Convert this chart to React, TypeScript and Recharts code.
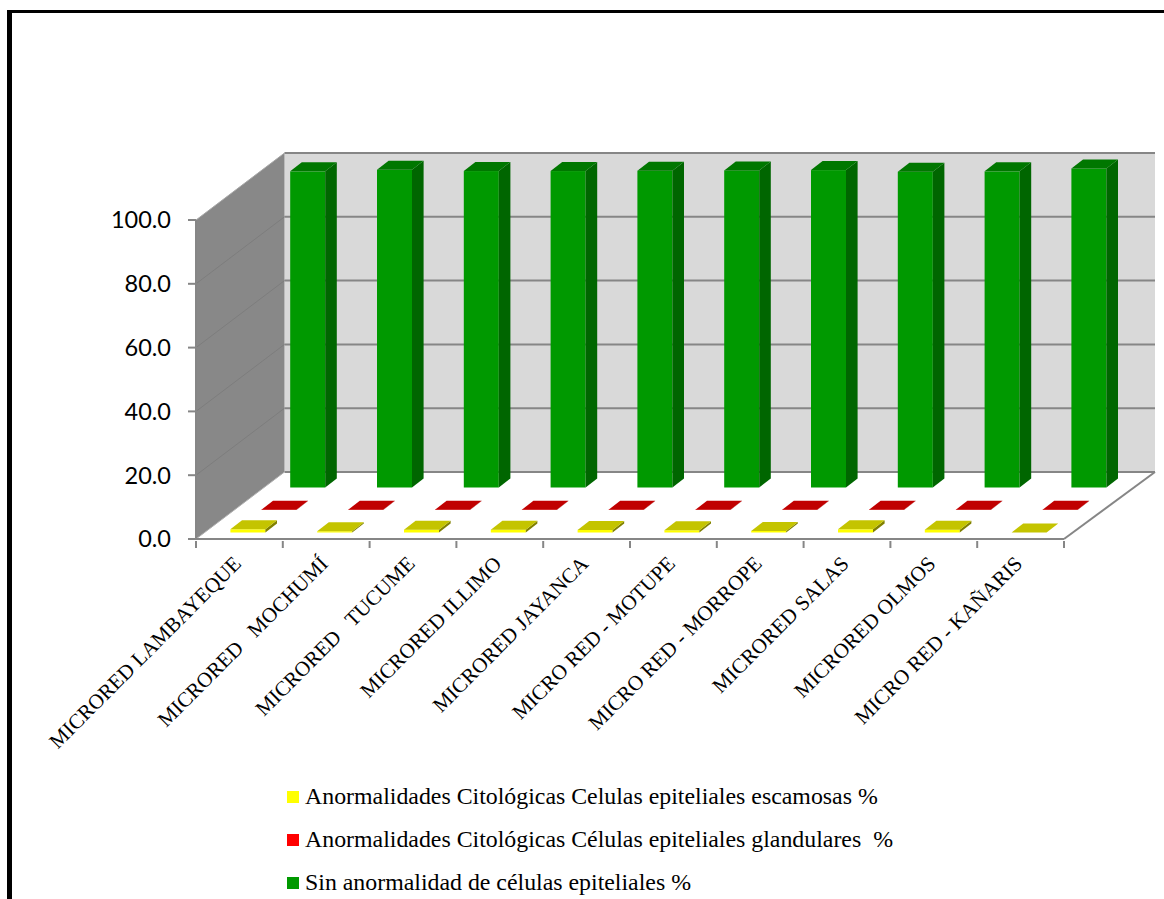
import { BarChart, Bar, XAxis, YAxis, Legend, ReferenceArea } from "recharts";

const MICROREDES = [
  "MICRORED LAMBAYEQUE",
  "MICRORED   MOCHUMÍ",
  "MICRORED   TUCUME",
  "MICRORED ILLIMO",
  "MICRORED JAYANCA",
  "MICRO RED - MOTUPE",
  "MICRO RED - MORROPE",
  "MICRORED SALAS",
  "MICRORED OLMOS",
  "MICRO RED - KAÑARIS",
];
const ESCAMOSAS = [1.0, 0.4, 0.9, 0.9, 0.8, 0.7, 0.5, 1.0, 0.9, 0.0];
const GLANDULARES = [0.1, 0.1, 0.1, 0.1, 0.1, 0.1, 0.1, 0.1, 0.1, 0.1];
const SIN_ANORMALIDAD = [99.1, 99.6, 99.2, 99.2, 99.3, 99.4, 99.5, 99.0, 99.1, 100.0];
const Y_TICKS = [0, 20, 40, 60, 80, 100];

const chartData = MICROREDES.map((name, i) => ({
  name,
  escamosas: ESCAMOSAS[i],
  glandulares: GLANDULARES[i],
  sinAnormalidad: SIN_ANORMALIDAD[i],
}));

const CHART_W = 1164;
const CHART_H = 899;
const WALL_DX_LEFT = 88.5;
const WALL_DX_RIGHT = 91;
const WALL_DY = 67;
const CAT_W = 86.8;
const AXIS_GREY = "#868686";

// ── Back wall, side wall and floor, all hung off the plot rectangle ─────────
function Room({ x, y, width, height }: any) {
  const bottom = y + height;
  const right = x + width;
  const bx = x + WALL_DX_LEFT;
  const br = right + WALL_DX_RIGHT;
  const tickY = (t: number) => bottom - (height * t) / 100;
  return (
    <g>
      <polygon
        points={`${bx},${y - WALL_DY} ${br},${y - WALL_DY} ${br},${bottom - WALL_DY} ${bx},${bottom - WALL_DY}`}
        fill="#d9d9d9"
      />
      <polygon
        points={`${x},${y} ${bx},${y - WALL_DY} ${bx},${bottom - WALL_DY} ${x},${bottom}`}
        fill="#888888"
      />
      {Y_TICKS.map((t) => (
        <g key={t}>
          {t > 0 && t < 100 && (
            <line x1={x} y1={tickY(t)} x2={bx} y2={tickY(t) - WALL_DY} stroke="#7d7d7d" strokeWidth={1} />
          )}
          <line x1={bx} y1={tickY(t) - WALL_DY} x2={br} y2={tickY(t) - WALL_DY} stroke={AXIS_GREY} strokeWidth={2} />
        </g>
      ))}
      <line x1={x} y1={y} x2={bx} y2={y - WALL_DY} stroke="#a8a8a8" strokeWidth={1} />
      <line x1={x} y1={bottom} x2={bx} y2={bottom - WALL_DY} stroke="#b0b0b0" strokeWidth={1} />
      <line x1={right} y1={bottom} x2={br} y2={bottom - WALL_DY} stroke={AXIS_GREY} strokeWidth={2} />
    </g>
  );
}

// ── Extruded bar: front face, side face and lid, pushed back along the floor ──
function prism(colors: { front: string; side: string; top: string }, rowDx: number, rowDy: number) {
  return function Prism({ x, y, width, height }: any) {
    const fx = x + rowDx;
    const fy = y - rowDy;
    const dx = 11.6;
    const dy = 9;
    const r = fx + width;
    const b = fy + height;
    return (
      <g>
        <rect x={fx} y={fy} width={width} height={height} fill={colors.front} />
        <polygon points={`${r},${fy} ${r + dx},${fy - dy} ${r + dx},${b - dy} ${r},${b}`} fill={colors.side} />
        <polygon points={`${fx},${fy} ${fx + dx},${fy - dy} ${r + dx},${fy - dy} ${r},${fy}`} fill={colors.top} />
      </g>
    );
  };
}

const YellowPrism = prism({ front: "#ffff00", side: "#808000", top: "#c4c400" }, 8.4, 6.5);
const RedPrism = prism({ front: "#ff0000", side: "#800000", top: "#c00000" }, 39.4, 29);
const GreenPrism = prism({ front: "#009900", side: "#006600", top: "#007700" }, 68.2, 51.5);

// Slanted category label plus the boundary tick marks of the floor edge
function CategoryTick({ x, y, payload, index }: any) {
  const tx = x + 3;
  const ty = y + 24;
  return (
    <g>
      <line x1={x - CAT_W / 2} y1={y} x2={x - CAT_W / 2} y2={y + 7} stroke={AXIS_GREY} strokeWidth={2} />
      {index === MICROREDES.length - 1 && (
        <line x1={x + CAT_W / 2} y1={y} x2={x + CAT_W / 2} y2={y + 7} stroke={AXIS_GREY} strokeWidth={2} />
      )}
      <text
        x={tx}
        y={ty}
        textAnchor="end"
        transform={`rotate(-45 ${tx} ${ty})`}
        fontFamily="'Liberation Serif', serif"
        fontSize={21}
        fill="#000"
        style={{ whiteSpace: "pre" }}
      >
        {payload.value}
      </text>
    </g>
  );
}

function LegendRows({ payload }: any) {
  return (
    <div style={{ fontFamily: "'Liberation Serif', serif", fontSize: 23.85, color: "#000" }}>
      {(payload ?? []).map((item: any) => (
        <div key={item.value} style={{ display: "flex", alignItems: "center", height: 43, whiteSpace: "pre" }}>
          <span style={{ width: 12, height: 12, background: item.color, marginRight: 6 }} />
          {item.value}
        </div>
      ))}
    </div>
  );
}

export default function App() {
  return (
    <div style={{ position: "absolute", left: 0, top: 0, width: CHART_W, height: CHART_H, overflow: "hidden", background: "#fff" }}>
      <div style={{ position: "absolute", left: 7, top: 10, width: CHART_W, height: CHART_H, borderLeft: "5px solid #000", borderTop: "3px solid #000" }} />
      <BarChart
        width={CHART_W}
        height={CHART_H}
        data={chartData}
        barSize={35}
        barGap={-35}
        barCategoryGap={0}
        margin={{ top: 220, right: 100, left: 136, bottom: 300 }}
        style={{ position: "absolute", left: 0, top: 0 }}
      >
        <ReferenceArea y1={0} y2={100} shape={Room} />
        <XAxis
          dataKey="name"
          interval={0}
          height={60}
          stroke={AXIS_GREY}
          strokeWidth={2}
          tickLine={false}
          tickSize={0}
          tick={CategoryTick}
        />
        <YAxis
          domain={[0, 100]}
          ticks={Y_TICKS}
          width={60}
          stroke={AXIS_GREY}
          strokeWidth={2}
          tickSize={8}
          tickMargin={17}
          tickFormatter={(v: number) => v.toFixed(1)}
          tick={{ fontFamily: "Lato, sans-serif", fontSize: 23.5, fill: "#000" }}
        />
        <Legend
          layout="vertical"
          align="center"
          verticalAlign="middle"
          content={LegendRows}
          wrapperStyle={{ position: "absolute", left: 287, top: 775, width: 760 }}
        />
        <Bar
          dataKey="escamosas"
          name="Anormalidades Citológicas Celulas epiteliales escamosas %"
          fill="#ffff00"
          shape={YellowPrism}
          isAnimationActive={false}
        />
        <Bar
          dataKey="glandulares"
          name="Anormalidades Citológicas Células epiteliales glandulares  %"
          fill="#ff0000"
          shape={RedPrism}
          isAnimationActive={false}
        />
        <Bar
          dataKey="sinAnormalidad"
          name="Sin anormalidad de células epiteliales %"
          fill="#009900"
          shape={GreenPrism}
          isAnimationActive={false}
        />
      </BarChart>
    </div>
  );
}
